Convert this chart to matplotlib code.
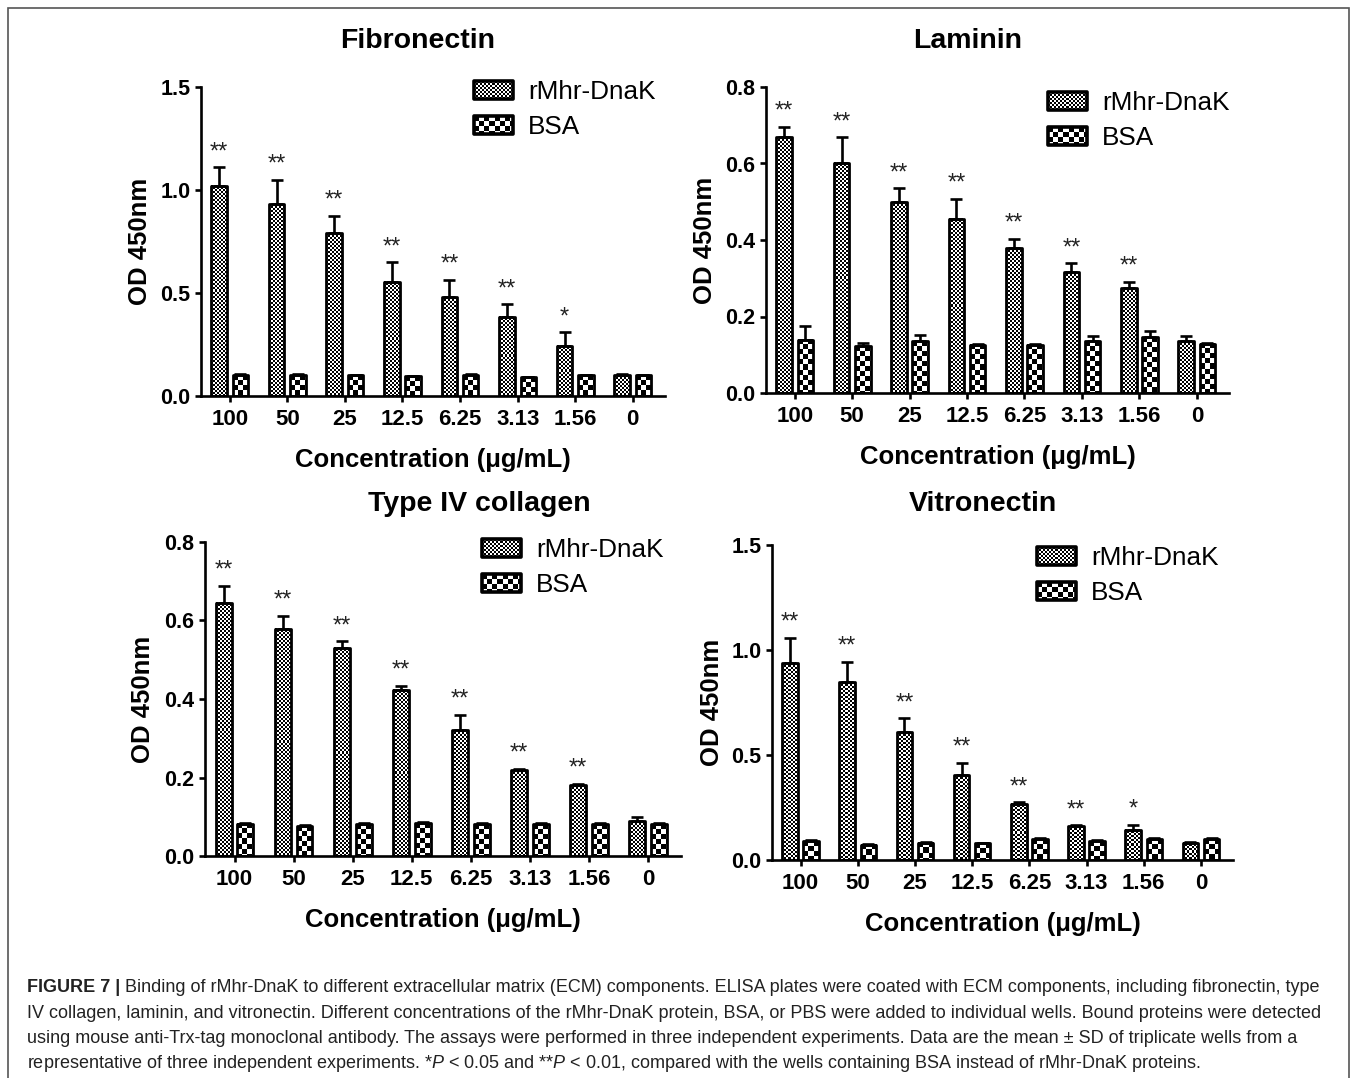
import numpy as np
import matplotlib
matplotlib.use('Agg')
import matplotlib.pyplot as plt
from matplotlib.patches import Rectangle
from matplotlib.image import BboxImage
from matplotlib.transforms import Bbox, TransformedBbox
from matplotlib.legend_handler import HandlerBase
from matplotlib.ticker import FormatStrFormatter

plt.rcParams['font.family'] = ['Liberation Sans', 'DejaVu Sans']
plt.rcParams['mathtext.fontset'] = 'custom'
plt.rcParams['mathtext.rm'] = 'Liberation Sans'
plt.rcParams['mathtext.it'] = 'Liberation Sans:italic'

# concentrations (ug/mL)
conc = ['100', '50', '25', '12.5', '6.25', '3.13', '1.56', '0']

# Fibronectin
fn_dnak = [1.02, 0.93, 0.79, 0.555, 0.48, 0.385, 0.245, 0.10]
fn_dnak_sd = [0.09, 0.12, 0.085, 0.095, 0.085, 0.06, 0.065, 0.005]
fn_bsa = [0.10, 0.10, 0.10, 0.095, 0.10, 0.09, 0.10, 0.10]
fn_bsa_sd = [0.005, 0.005, 0.004, 0.004, 0.005, 0.004, 0.004, 0.004]
fn_sig = ['**', '**', '**', '**', '**', '**', '*', '']

# Laminin
lam_dnak = [0.668, 0.602, 0.499, 0.455, 0.378, 0.316, 0.274, 0.135]
lam_dnak_sd = [0.028, 0.066, 0.036, 0.053, 0.025, 0.023, 0.017, 0.015]
lam_bsa = [0.139, 0.122, 0.135, 0.126, 0.126, 0.135, 0.146, 0.129]
lam_bsa_sd = [0.035, 0.008, 0.017, 0.003, 0.003, 0.013, 0.015, 0.002]
lam_sig = ['**', '**', '**', '**', '**', '**', '**', '']

# Type IV collagen
col_dnak = [0.645, 0.579, 0.531, 0.423, 0.320, 0.218, 0.180, 0.089]
col_dnak_sd = [0.043, 0.033, 0.016, 0.011, 0.040, 0.004, 0.004, 0.010]
col_bsa = [0.082, 0.076, 0.081, 0.083, 0.081, 0.081, 0.081, 0.081]
col_bsa_sd = [0.003, 0.003, 0.003, 0.003, 0.003, 0.003, 0.003, 0.003]
col_sig = ['**', '**', '**', '**', '**', '**', '**', '']

# Vitronectin
vn_dnak = [0.938, 0.846, 0.608, 0.404, 0.267, 0.161, 0.143, 0.081]
vn_dnak_sd = [0.121, 0.099, 0.066, 0.060, 0.007, 0.004, 0.024, 0.003]
vn_bsa = [0.089, 0.073, 0.083, 0.080, 0.100, 0.089, 0.100, 0.100]
vn_bsa_sd = [0.004, 0.003, 0.004, 0.003, 0.005, 0.004, 0.005, 0.005]
vn_sig = ['**', '**', '**', '**', '**', '**', '*', '']

caption = [
    'Binding of rMhr-DnaK to different extracellular matrix (ECM) components. ELISA plates were coated with ECM components, including fibronectin, type',
    'IV collagen, laminin, and vitronectin. Different concentrations of the rMhr-DnaK protein, BSA, or PBS were added to individual wells. Bound proteins were detected',
    'using mouse anti-Trx-tag monoclonal antibody. The assays were performed in three independent experiments. Data are the mean \u00b1 SD of triplicate wells from a',
    r'representative of three independent experiments. *$P$ < 0.05 and **$P$ < 0.01, compared with the wells containing BSA instead of rMhr-DnaK proteins.',
]

W, H, DPI = 1357, 1078, 100
FINE, COARSE = 2, 5   # checker cell size in pixels
BW, OFF = 0.27, 0.185


def checker(w_px, h_px, cell):
    nx = max(1, int(round(w_px)))
    ny = max(1, int(round(h_px)))
    i, j = np.indices((ny, nx))
    return ((i // cell + j // cell) % 2).astype(float)


def checker_image(bbox, w_px, h_px, cell):
    im = BboxImage(bbox, cmap='gray', interpolation='nearest')
    im.set_data(checker(w_px, h_px, cell))
    im.set_clim(0, 1)
    return im


class CheckerHandler(HandlerBase):
    def __init__(self, cell):
        super().__init__()
        self.cell = cell

    def create_artists(self, legend, orig_handle, xdescent, ydescent,
                       width, height, fontsize, trans):
        box = Bbox.from_bounds(-xdescent, -ydescent, width, height)
        im = checker_image(TransformedBbox(box, trans),
                           width * DPI / 72, height * DPI / 72, self.cell)
        rect = Rectangle((-xdescent, -ydescent), width, height, facecolor='none',
                         edgecolor='black', linewidth=2.6, joinstyle='round',
                         transform=trans)
        return [im, rect]


def px_rect(l, t, r, b):
    return [l / W, 1 - b / H, (r - l) / W, (b - t) / H]


fig = plt.figure(figsize=(W / DPI, H / DPI), dpi=DPI)

panels = [
    (px_rect(201, 87, 665, 396), 'Fibronectin', (418, 41), 1.5, 0.5,
     fn_dnak, fn_dnak_sd, fn_bsa, fn_bsa_sd, fn_sig, (474, 80)),
    (px_rect(766, 87, 1229, 393), 'Laminin', (968, 41), 0.8, 0.2,
     lam_dnak, lam_dnak_sd, lam_bsa, lam_bsa_sd, lam_sig, (1048, 91)),
    (px_rect(205, 542, 681, 856), 'Type IV collagen', (479, 504), 0.8, 0.2,
     col_dnak, col_dnak_sd, col_bsa, col_bsa_sd, col_sig, (482, 538)),
    (px_rect(772, 545, 1233, 860), 'Vitronectin', (983, 504), 1.5, 0.5,
     vn_dnak, vn_dnak_sd, vn_bsa, vn_bsa_sd, vn_sig, (1037, 546)),
]

x = np.arange(len(conc))
for rect, title, tpos, ymax, ystep, dnak, dnak_sd, bsa, bsa_sd, sig, lpos in panels:
    ax = fig.add_axes(rect)
    ax.set_xlim(-0.5, 7.56)
    ax.set_ylim(0, ymax)
    for s in ['top', 'right']:
        ax.spines[s].set_visible(False)
    for s in ['left', 'bottom']:
        ax.spines[s].set_linewidth(1.9)

    b1 = ax.bar(x - OFF, dnak, width=BW, facecolor='none', edgecolor='black',
                linewidth=2.0, joinstyle='round', zorder=3)
    b2 = ax.bar(x + OFF, bsa, width=BW, facecolor='none', edgecolor='black',
                linewidth=2.0, joinstyle='round', zorder=3)
    # checker fill of each bar
    for bars, cell in ((b1, FINE), (b2, COARSE)):
        for r in bars:
            bb = r.get_bbox()
            p = ax.transData.transform([[bb.x0, bb.y0], [bb.x1, bb.y1]])
            im = checker_image(TransformedBbox(bb, ax.transData),
                               abs(p[1, 0] - p[0, 0]), abs(p[1, 1] - p[0, 1]), cell)
            im.set_zorder(2)
            ax.add_artist(im)

    ax.errorbar(x - OFF, dnak, yerr=[np.zeros(len(x)), dnak_sd], fmt='none',
                ecolor='black', elinewidth=1.9, capsize=4, capthick=1.9, zorder=4)
    ax.errorbar(x + OFF, bsa, yerr=[np.zeros(len(x)), bsa_sd], fmt='none',
                ecolor='black', elinewidth=1.9, capsize=4, capthick=1.9, zorder=4)

    for xi, yi, sd, st in zip(x, dnak, dnak_sd, sig):
        if st:
            ax.annotate(st, (xi - OFF, yi + sd), xytext=(0, 15),
                        textcoords='offset pixels', ha='center', va='center',
                        fontsize=17, color='#222222')

    ax.set_xticks(x)
    ax.set_xticklabels(conc, fontweight='bold')
    ax.set_yticks(np.arange(0, ymax + 1e-9, ystep))
    ax.yaxis.set_major_formatter(FormatStrFormatter('%.1f'))
    ax.tick_params(direction='out', length=4.5, width=1.9)
    ax.tick_params(axis='x', labelsize=16, pad=5)
    ax.tick_params(axis='y', labelsize=15.5, pad=3)
    for lab in ax.get_yticklabels():
        lab.set_fontweight('bold')
    ax.set_xlabel('Concentration (\u03bcg/mL)', fontsize=18.5, fontweight='bold', labelpad=13)
    ax.set_ylabel('OD 450nm', fontsize=18.5, fontweight='bold')
    ax.yaxis.set_label_coords(-0.105, 0.5)

    fig.text(tpos[0] / W, 1 - tpos[1] / H, title, ha='center', va='center',
             fontsize=20.5, fontweight='bold')

    h1 = Rectangle((0, 0), 1, 1)
    h2 = Rectangle((0, 0), 1, 1)
    ax.legend([h1, h2], ['rMhr-DnaK', 'BSA'],
              handler_map={h1: CheckerHandler(FINE), h2: CheckerHandler(COARSE)},
              loc='upper left', bbox_to_anchor=(lpos[0] / W, 1 - lpos[1] / H),
              bbox_transform=fig.transFigure, frameon=False, fontsize=18.8,
              borderpad=0, borderaxespad=0, handlelength=1.5, handleheight=0.68,
              handletextpad=0.58, labelspacing=0.42)

# frame around the figure
fig.add_artist(Rectangle((8 / W, -0.02), (1349 - 8) / W, 1 - 8 / H + 0.02,
                         transform=fig.transFigure, fill=False,
                         edgecolor='#555555', linewidth=1.2))

# caption
renderer = fig.canvas.get_renderer()
base = [992, 1018, 1043, 1068]
lead = fig.text(27 / W, 1 - base[0] / H, 'FIGURE 7 |', fontsize=13,
                fontweight='bold', va='baseline', color='#222222')
bb = lead.get_window_extent(renderer)
fig.text((bb.x1 + 5) / W, 1 - base[0] / H, caption[0], fontsize=13,
         va='baseline', color='#222222')
for line, yb in zip(caption[1:], base[1:]):
    fig.text(27 / W, 1 - yb / H, line, fontsize=13, va='baseline', color='#222222')

fig.savefig('out.png', dpi=DPI)
